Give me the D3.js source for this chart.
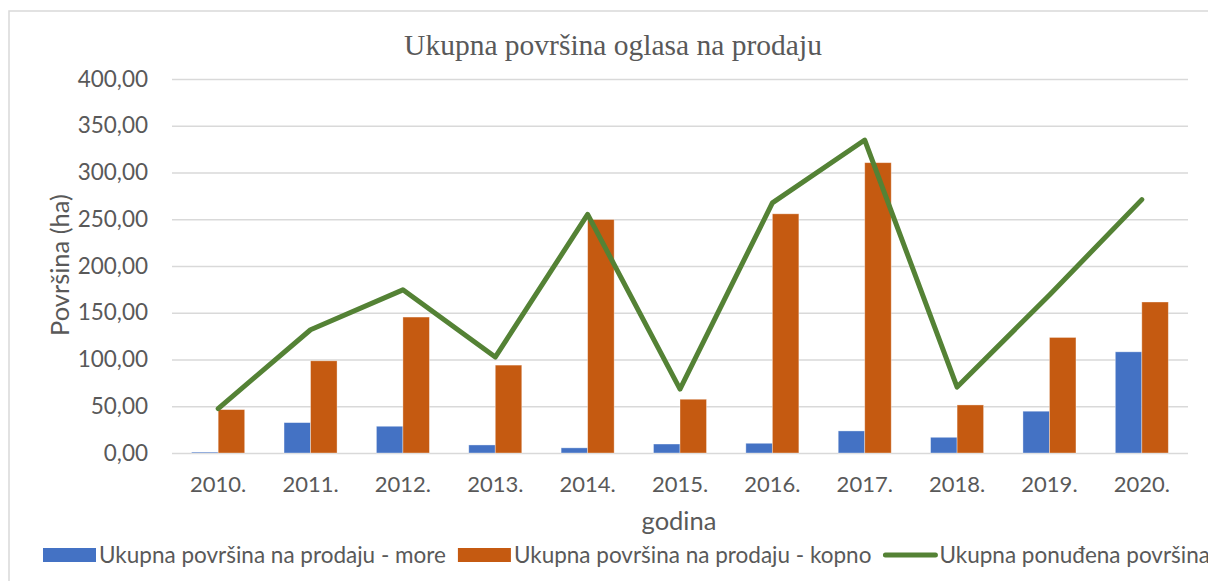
<!DOCTYPE html>
<html>
<head>
<meta charset="utf-8">
<script src="https://cdn.jsdelivr.net/npm/d3@7"></script>
<style>
  html, body { margin: 0; padding: 0; background: #fff; }
  svg { display: block; }
</style>
</head>
<body>
<div id="chart"></div>
<script>
// values (ha)
const years = ['2010.', '2011.', '2012.', '2013.', '2014.', '2015.', '2016.', '2017.', '2018.', '2019.', '2020.'];
const seaArea = [1.0, 32.5, 28.6, 8.6, 5.5, 9.6, 10.4, 23.6, 16.8, 44.7, 108.2];
const landArea = [46.4, 98.6, 145.4, 94.0, 249.7, 57.5, 255.8, 310.5, 51.4, 123.6, 161.5];
const totalOffered = [47.5, 131.8, 174.5, 102.6, 255.2, 68.3, 267.5, 334.7, 70.5, 169.0, 271.0];
const yTicks = [0, 50, 100, 150, 200, 250, 300, 350, 400];
const seriesNames = [
  'Ukupna površina na prodaju - more',
  'Ukupna površina na prodaju - kopno',
  'Ukupna ponuđena površina'
];
const chartTitle = 'Ukupna površina oglasa na prodaju';
const yTitle = 'Površina (ha)';
const xTitle = 'godina';

(function () {
  const W = 1208, H = 581;
  const margin = { top: 79, right: 20, bottom: 128, left: 172 };
  const width = W - margin.left - margin.right;   // 1016
  const height = H - margin.top - margin.bottom;  // 374

  const colors = { sea: '#4472C4', land: '#C55A11', total: '#548235' };
  const textColor = '#595959';
  const gridColor = '#d9d9d9';
  const sans = 'Lato, "Open Sans", sans-serif';

  const locale = d3.formatLocale({ decimal: ',', thousands: '.', grouping: [3], currency: ['', ''] });
  const fmt = locale.format('.2f');

  const svg = d3.select('#chart').append('svg')
    .attr('width', W).attr('height', H);

  // chart area border (continues past the right/bottom edge like the crop)
  svg.append('rect')
    .attr('x', 9).attr('y', 11)
    .attr('width', W + 20).attr('height', H + 20)
    .attr('fill', '#fff')
    .attr('stroke', gridColor).attr('stroke-width', 1.5);

  const g = svg.append('g').attr('transform', `translate(${margin.left},${margin.top})`);

  const y = d3.scaleLinear().domain([0, 400]).range([height, 0]);
  const x0 = d3.scaleBand().domain(years).range([0, width]).padding(0);
  const groupW = x0.step() * 0.574;
  const x1 = d3.scaleBand().domain(['sea', 'land']).range([0, groupW]).padding(0);

  // y axis + gridlines
  const yAxis = g.append('g')
    .call(d3.axisLeft(y).tickValues(yTicks).tickSize(-width).tickPadding(24).tickFormat(fmt));
  yAxis.select('.domain').remove();
  yAxis.selectAll('.tick line').attr('stroke', gridColor).attr('stroke-width', 1.5);
  yAxis.selectAll('.tick text')
    .attr('fill', textColor)
    .style('font-family', sans).style('font-size', '22.5px');

  // x axis
  const xAxis = g.append('g')
    .attr('transform', `translate(0,${height})`)
    .call(d3.axisBottom(x0).tickSize(0).tickPadding(23));
  xAxis.select('.domain').remove();
  xAxis.selectAll('.tick text')
    .attr('fill', textColor)
    .style('font-family', sans).style('font-size', '22px');

  // bars
  const rows = years.map((yr, i) => ({ year: yr, sea: seaArea[i], land: landArea[i] }));
  const groups = g.append('g').selectAll('g')
    .data(rows).join('g')
    .attr('transform', d => `translate(${x0(d.year) + (x0.step() - groupW) / 2},0)`);

  groups.selectAll('rect')
    .data(d => ['sea', 'land'].map(k => ({ key: k, value: d[k] })))
    .join('rect')
    .attr('x', d => x1(d.key))
    .attr('y', d => y(d.value))
    .attr('width', x1.bandwidth())
    .attr('height', d => height - y(d.value))
    .attr('fill', d => colors[d.key])
    .attr('stroke', '#fff').attr('stroke-opacity', 0.45).attr('stroke-width', 0.8);

  // total line
  const line = d3.line()
    .x((d, i) => x0(years[i]) + x0.bandwidth() / 2)
    .y(d => y(d));
  g.append('path')
    .datum(totalOffered)
    .attr('d', line)
    .attr('fill', 'none')
    .attr('stroke', colors.total)
    .attr('stroke-width', 5)
    .attr('stroke-linejoin', 'round')
    .attr('stroke-linecap', 'round');

  // titles
  svg.append('text')
    .attr('x', 613).attr('y', 55)
    .attr('text-anchor', 'middle')
    .attr('fill', textColor)
    .style('font-family', '"Liberation Serif", "Times New Roman", serif')
    .style('font-size', '29.5px')
    .text(chartTitle);

  svg.append('text')
    .attr('transform', `translate(69,${margin.top + height / 2 - 1}) rotate(-90)`)
    .attr('text-anchor', 'middle')
    .attr('fill', textColor)
    .style('font-family', sans).style('font-size', '25.5px')
    .text(yTitle);

  svg.append('text')
    .attr('x', margin.left + width / 2 - 1).attr('y', 530)
    .attr('text-anchor', 'middle')
    .attr('fill', textColor)
    .style('font-family', sans).style('font-size', '25.5px')
    .text(xTitle);

  // legend, laid out left to right
  const legend = svg.append('g').attr('transform', 'translate(43,0)');
  let lx = 0;
  const keys = ['sea', 'land', 'total'];
  keys.forEach((k, i) => {
    const item = legend.append('g').attr('transform', `translate(${lx},0)`);
    if (k === 'total') {
      item.append('line')
        .attr('x1', 2).attr('x2', 52).attr('y1', 555).attr('y2', 555)
        .attr('stroke', colors.total).attr('stroke-width', 5)
        .attr('stroke-linecap', 'round');
    } else {
      item.append('rect')
        .attr('x', 0).attr('y', 548).attr('width', 53).attr('height', 14)
        .attr('fill', colors[k]);
    }
    const t = item.append('text')
      .attr('x', 56).attr('y', 563)
      .attr('fill', textColor)
      .style('font-family', sans).style('font-size', '22.5px')
      .text(seriesNames[i]);
    lx += 56 + t.node().getComputedTextLength() + 12;
  });
})();
</script>
</body>
</html>
